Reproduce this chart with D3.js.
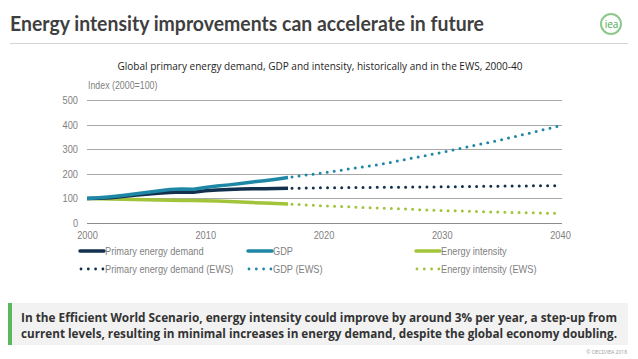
<!DOCTYPE html>
<html><head><meta charset="utf-8">
<script src="https://cdn.jsdelivr.net/npm/d3@7"></script>
<style>
html,body{margin:0;padding:0;background:#fff;}
svg{display:block;}
</style></head>
<body>
<svg id="c" width="638" height="359"></svg>
<script>
// ---- data ----
const yearsHist = [2000,2001,2002,2003,2004,2005,2006,2007,2008,2009,2010,2011,2012,2013,2014,2015,2016,2017];
const primaryHist = [100,101,103,108,113,117,121,124,126,125,131,134,136,138,139,139,140,141];
const gdpHist = [100,103,107,112,118,124,130,136,138,137,144,150,155,161,167,172,178,185];
const intensityHist = [100,99,98,97,96,95,94,92,91,91,90,89,87,85,83,81,79,77];
const yearsEws = [2017,2020,2025,2030,2035,2040];
const primaryEws = [141,143,145,147,150,152];
const gdpEws = [185,204,240,287,338,395];
const intensityEws = [77,70,60,51,44,39];
const yTicks = [0,100,200,300,400,500];
const xTicks = [2000,2010,2020,2030,2040];
const seriesNames = ["Primary energy demand","GDP","Energy intensity"];
const colors = ["#13304f","#1f87a6","#a2c43a"];

const svg = d3.select("#c");
const narrowFont = "'Liberation Sans',Arial,sans-serif";
const squeeze = 0.84;
function narrowize(sel){
  sel.attr("font-family",narrowFont).each(function(){
    const w = this.getComputedTextLength();
    d3.select(this).attr("textLength",(w*squeeze).toFixed(1)).attr("lengthAdjust","spacingAndGlyphs");
  });
}

// header
svg.append("text").attr("x",10).attr("y",31)
  .attr("font-family","Lato,'Open Sans',sans-serif").attr("font-weight","bold")
  .attr("font-size",20).attr("fill","#3f3f3f")
  .attr("textLength",474).attr("lengthAdjust","spacingAndGlyphs")
  .text("Energy intensity improvements can accelerate in future");
svg.append("line").attr("x1",10).attr("x2",628).attr("y1",43.5).attr("y2",43.5)
  .attr("stroke","#d4d4d4").attr("stroke-width",1.2);
// logo
svg.append("circle").attr("cx",611).attr("cy",24).attr("r",10)
  .attr("fill","#fff").attr("stroke","#8cc88c").attr("stroke-width",2);
svg.append("text").attr("x",611.5).attr("y",28).attr("text-anchor","middle")
  .attr("font-family","'Open Sans',sans-serif").attr("font-size",10).attr("fill","#4aa64a")
  .text("iea");

// subtitle
svg.append("text").attr("x",320).attr("y",70).attr("text-anchor","middle")
  .attr("font-family","'Open Sans',sans-serif").attr("font-size",11.3).attr("fill","#1e1e1e")
  .attr("textLength",405).attr("lengthAdjust","spacingAndGlyphs")
  .text("Global primary energy demand, GDP and intensity, historically and in the EWS, 2000-40");
svg.append("text").attr("x",88).attr("y",89)
  .attr("font-size",10.5).attr("fill","#7f7f7f")
  .text("Index (2000=100)").call(narrowize);

const x = d3.scaleLinear().domain([2000,2040]).range([87,560]);
const y = d3.scaleLinear().domain([0,500]).range([223,100]);

// grid
svg.append("g").selectAll("line").data(yTicks).join("line")
  .attr("x1",87).attr("x2",562).attr("y1",d=>Math.round(y(d))+0.5).attr("y2",d=>Math.round(y(d))+0.5)
  .attr("stroke",d=>d===0?"#8c8c8c":"#a8a8a8").attr("stroke-width",1);

// axes
const yAxis = svg.append("g").attr("transform","translate(78,0)")
  .call(d3.axisLeft(y).tickValues(yTicks).tickSize(0).tickPadding(0));
yAxis.select(".domain").remove();
yAxis.selectAll("text").attr("font-size",11).attr("fill","#7f7f7f").call(narrowize);
const xAxis = svg.append("g").attr("transform","translate(0,231)")
  .call(d3.axisBottom(x).tickValues(xTicks).tickFormat(d3.format("d")).tickSize(0).tickPadding(0));
xAxis.select(".domain").remove();
xAxis.selectAll("text").attr("font-size",11).attr("fill","#7f7f7f").attr("dy","0.71em").call(narrowize);

// lines
const line = d3.line().x(d=>x(d[0])).y(d=>y(d[1]));
const hist = [primaryHist, gdpHist, intensityHist];
const ews = [primaryEws, gdpEws, intensityEws];
const order = [2,0,1];
order.forEach(i=>{
  svg.append("path").datum(yearsHist.map((yr,k)=>[yr,hist[i][k]]))
    .attr("d",line).attr("fill","none").attr("stroke",colors[i])
    .attr("stroke-width",3.5).attr("stroke-linejoin","round").attr("stroke-linecap","butt");
});
order.forEach(i=>{
  svg.append("path").datum(yearsEws.map((yr,k)=>[yr,ews[i][k]]))
    .attr("d",line).attr("fill","none").attr("stroke",colors[i])
    .attr("stroke-width",3).attr("stroke-linecap","round")
    .attr("stroke-dasharray","0 7.1").attr("stroke-dashoffset",-4);
});

// legend
const legX = [80,248,416];
const legY = [251,269];
seriesNames.forEach((n,i)=>{
  const g = svg.append("g");
  g.append("line").attr("x1",legX[i]).attr("x2",legX[i]+24).attr("y1",legY[0]).attr("y2",legY[0])
    .attr("stroke",colors[i]).attr("stroke-width",3.5).attr("stroke-linecap","round");
  g.append("text").attr("x",legX[i]+25).attr("y",legY[0]+4)
    .attr("font-size",11).attr("fill","#7f7f7f").text(n).call(narrowize);
  g.append("line").attr("x1",legX[i]+1).attr("x2",legX[i]+24).attr("y1",legY[1]).attr("y2",legY[1])
    .attr("stroke",colors[i]).attr("stroke-width",2.8).attr("stroke-linecap","round")
    .attr("stroke-dasharray","0 7.3");
  g.append("text").attr("x",legX[i]+25).attr("y",legY[1]+4)
    .attr("font-size",11).attr("fill","#7f7f7f").text(n+" (EWS)").call(narrowize);
});

// bottom box
svg.append("rect").attr("x",10).attr("y",303).attr("width",618).attr("height",42).attr("fill","#f2f2f2");
svg.append("rect").attr("x",8).attr("y",303).attr("width",4).attr("height",42).attr("fill","#5cb85c");
const msg = ["In the Efficient World Scenario, energy intensity could improve by around 3% per year, a step-up from",
             "current levels, resulting in minimal increases in energy demand, despite the global economy doubling."];
msg.forEach((t,i)=>{
  svg.append("text").attr("x",21).attr("y",322+i*16)
    .attr("font-family","'Open Sans',sans-serif").attr("font-weight","bold").attr("font-size",11.8)
    .attr("fill","#333").attr("textLength",596).attr("lengthAdjust","spacingAndGlyphs").text(t);
});
svg.append("text").attr("x",627).attr("y",354).attr("text-anchor","end")
  .attr("font-family","'Open Sans',sans-serif").attr("font-size",5).attr("fill","#999")
  .text("© OECD/IEA 2018");
</script>
</body></html>
